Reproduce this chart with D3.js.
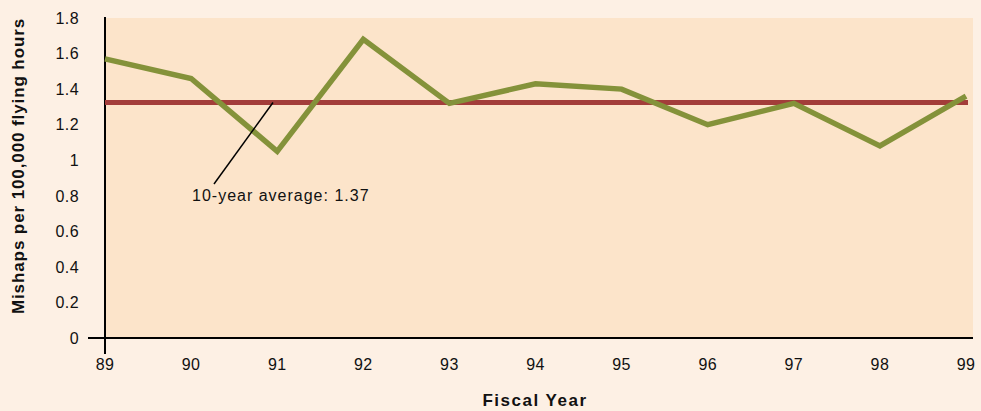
<!DOCTYPE html>
<html>
<head>
<meta charset="utf-8">
<script src="https://cdn.jsdelivr.net/npm/d3@7"></script>
<style>
  body { margin:0; background:#fdf0e4; }
  svg { display:block; font-family:"Liberation Sans", Arial, sans-serif; }
</style>
</head>
<body>
<div id="container"></div>
<script>
// data
var years = [89, 90, 91, 92, 93, 94, 95, 96, 97, 98, 99];
var mishapRates = [1.57, 1.46, 1.05, 1.68, 1.32, 1.43, 1.40, 1.20, 1.32, 1.08, 1.36];
var averageLine = 1.325;
var averageLabel = '10-year average: 1.37';
var yTicks = [0, 0.2, 0.4, 0.6, 0.8, 1, 1.2, 1.4, 1.6, 1.8];

var w = 981, h = 411;
var colors = {
	bg:'#fdf0e4',
	plot:'#fce4ca',
	rate:'#84923a',
	avg:'#a33d3a'
};

var svg = d3.select('#container').append('svg')
	.attr('width', w)
	.attr('height', h)
	.style('background', colors.bg);

var x = d3.scaleLinear().domain([89, 99]).range([105, 966]);
var y = d3.scaleLinear().domain([0, 1.8]).range([338, 18]);

//plot area
svg.append('rect')
	.attr('x', x(89))
	.attr('y', y(1.8))
	.attr('width', 973 - x(89))
	.attr('height', y(0) - y(1.8))
	.style('fill', colors.plot);

//y tick labels
svg.selectAll('text.ytick')
	.data(yTicks)
	.enter().append('text')
	.classed('ytick', true)
	.attr('x', 79)
	.attr('y', function(d){ return y(d); })
	.attr('dy', '0.36em')
	.attr('text-anchor', 'end')
	.style('font-size', '16px')
	.style('letter-spacing', '0.4px')
	.style('fill', '#111')
	.text(function(d){ return d; });

//x tick labels
svg.selectAll('text.xtick')
	.data(years)
	.enter().append('text')
	.classed('xtick', true)
	.attr('x', function(d){ return x(d); })
	.attr('y', 370)
	.attr('text-anchor', 'middle')
	.style('font-size', '16px')
	.style('letter-spacing', '0.4px')
	.style('fill', '#111')
	.text(function(d){ return d; });

//axes lines
svg.append('line')
	.attr('x1', 88).attr('x2', 973)
	.attr('y1', y(0)).attr('y2', y(0))
	.style('stroke', '#000').style('stroke-width', 2);
svg.append('line')
	.attr('x1', x(89)).attr('x2', x(89))
	.attr('y1', y(1.8) - 1).attr('y2', 354)
	.style('stroke', '#000').style('stroke-width', 2);

//average line
svg.append('line')
	.attr('x1', x(89)).attr('x2', 968)
	.attr('y1', y(averageLine)).attr('y2', y(averageLine))
	.style('stroke', colors.avg)
	.style('stroke-width', 5);

//rate line
var line = d3.line()
	.x(function(d, i){ return x(years[i]); })
	.y(function(d){ return y(d); });
svg.append('path')
	.datum(mishapRates)
	.attr('d', line)
	.style('fill', 'none')
	.style('stroke', colors.rate)
	.style('stroke-width', 5.5)
	.style('stroke-linejoin', 'miter');

//annotation
svg.append('line')
	.attr('x1', 273).attr('y1', y(averageLine))
	.attr('x2', 214).attr('y2', 184)
	.style('stroke', '#000').style('stroke-width', 1.5);
svg.append('text')
	.attr('x', 192)
	.attr('y', 201)
	.style('font-size', '16px')
	.style('letter-spacing', '1px')
	.style('fill', '#111')
	.text(averageLabel);

//axis titles
svg.append('text')
	.attr('x', 535)
	.attr('y', 406)
	.attr('text-anchor', 'middle')
	.style('font-size', '17px')
	.style('font-weight', 'bold')
	.style('letter-spacing', '1.5px')
	.style('fill', '#111')
	.text('Fiscal Year');
svg.append('text')
	.attr('transform', 'translate(24,' + 166 + ')rotate(-90)')
	.attr('text-anchor', 'middle')
	.style('font-size', '17px')
	.style('font-weight', 'bold')
	.style('letter-spacing', '0.9px')
	.style('fill', '#111')
	.text('Mishaps per 100,000 flying hours');
</script>
</body>
</html>
